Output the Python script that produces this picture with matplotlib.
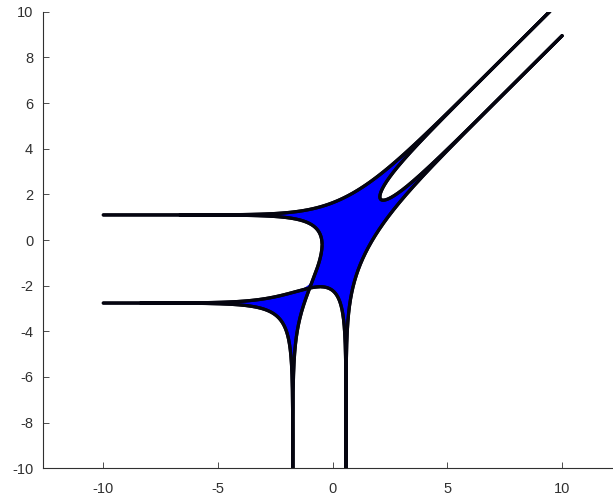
import numpy as np
import matplotlib
matplotlib.use('Agg')
import matplotlib.pyplot as plt

# ---- data: amoeba of a real plane conic, given by its tentacle positions ----
left_tentacles_y = [1.10, -2.76]   # log|w| of roots of f(0, w)
left_root_signs = [1, -1]
down_tentacles_x = [-1.74, 0.58]   # log|z| of roots of f(z, 0)
down_root_signs = [1, -1]
diag_upper_offset = 0.55           # y - x of the upper diagonal tentacle
diag_upper_sign = -1
x_range = [-10.0, 10.0]
x_ticks = [-10, -5, 0, 5, 10]
y_ticks = [-10, -8, -6, -4, -2, 0, 2, 4, 6, 8, 10]

# ---- coefficients of f(z,w) = a00 + a10 z + a01 w + a20 z^2 + a11 z w + a02 w^2 ----
w1, w2 = np.array(left_root_signs) * np.exp(left_tentacles_y)
z1, z2 = np.array(down_root_signs) * np.exp(down_tentacles_x)
a00 = 1.0
a02 = a00 / (w1 * w2)
a01 = -a02 * (w1 + w2)
a20 = a00 / (z1 * z2)
a10 = -a20 * (z1 + z2)
t1 = diag_upper_sign * np.exp(diag_upper_offset)
t2 = (a20 / a02) / t1
a11 = -a02 * (t1 + t2)


def quad_roots(A, B, C):
    disc = np.sqrt(B * B - 4 * A * C + 0j)
    s = np.where(np.real(np.conj(B) * disc) >= 0, 1.0, -1.0)
    q = -0.5 * (B + s * disc)
    q = np.where(q == 0, 1e-300, q)
    return q / A, C / q


# ---- filled amoeba: vertical slices ----
xs = np.linspace(x_range[0], x_range[1], 3001)
th = np.linspace(0, 2 * np.pi, 1441)[:-1]
lo1 = np.empty_like(xs); hi1 = np.empty_like(xs)
lo2 = np.empty_like(xs); hi2 = np.empty_like(xs)
for i0 in range(0, len(xs), 300):
    xx = xs[i0:i0 + 300]
    z = np.exp(xx)[:, None] * np.exp(1j * th)[None, :]
    B = a01 + a11 * z
    C = a00 + a10 * z + a20 * z * z
    r1, r2 = quad_roots(a02, B, C)
    y1 = np.log(np.maximum(np.abs(r1), 1e-30))
    y2 = np.log(np.maximum(np.abs(r2), 1e-30))
    ys = np.minimum(y1, y2); yb = np.maximum(y1, y2)
    lo1[i0:i0 + 300] = ys.min(1); hi1[i0:i0 + 300] = ys.max(1)
    lo2[i0:i0 + 300] = yb.min(1); hi2[i0:i0 + 300] = yb.max(1)

fig = plt.figure(figsize=(6.13, 5.0), dpi=100)
ax = fig.add_axes([0.0701, 0.0634, 0.9299, 0.913])

blue = '#0000ff'
ax.fill_between(xs, lo1, hi1, color=blue, lw=0.6, edgecolor=blue)
ax.fill_between(xs, lo2, hi2, color=blue, lw=0.6, edgecolor=blue)

# ---- real part of the curve ----
black = '#050510'
N = 20001
lw = 2.3
for sgn in (1.0, -1.0):
    xr = np.linspace(x_range[0], x_range[1], N)
    z = sgn * np.exp(xr)
    A = a02; B = a01 + a11 * z; C = a00 + a10 * z + a20 * z * z
    D = B * B - 4 * A * C
    ok = D >= 0
    sq = np.sqrt(np.where(ok, D, 0))
    for r in ((-B - sq) / (2 * A), (-B + sq) / (2 * A)):
        y = np.log(np.maximum(np.abs(r), 1e-30))
        y = np.where(ok, y, np.nan)
        ax.plot(xr, y, color=black, lw=lw, solid_capstyle='round')
    yr = np.linspace(-10, 10, N)
    w = sgn * np.exp(yr)
    A = a20; B = a10 + a11 * w; C = a00 + a01 * w + a02 * w * w
    D = B * B - 4 * A * C
    ok = D >= 0
    sq = np.sqrt(np.where(ok, D, 0))
    for r in ((-B - sq) / (2 * A), (-B + sq) / (2 * A)):
        x = np.log(np.maximum(np.abs(r), 1e-30))
        x = np.where(ok & (x >= x_range[0]) & (x <= x_range[1]), x, np.nan)
        ax.plot(x, yr, color=black, lw=lw, solid_capstyle='round')

ax.set_xlim(-12.63, 12.22)
ax.set_ylim(-10, 10)
ax.set_xticks(x_ticks)
ax.set_yticks(y_ticks)
ax.set_xticklabels([str(v) for v in x_ticks])
ax.set_yticklabels([str(v) for v in y_ticks])
for sp in ('top', 'right'):
    ax.spines[sp].set_visible(False)
gray = '#303030'
for sp in ('left', 'bottom'):
    ax.spines[sp].set_color(gray)
    ax.spines[sp].set_linewidth(0.8)
ax.tick_params(direction='in', length=4, width=0.6, color=gray,
               labelcolor=gray, labelsize=10.5)
ax.tick_params(axis='x', pad=10)
ax.tick_params(axis='y', pad=7)
for lab in ax.get_xticklabels() + ax.get_yticklabels():
    lab.set_family(['Liberation Sans', 'DejaVu Sans'])

fig.savefig('out.png', dpi=100)
